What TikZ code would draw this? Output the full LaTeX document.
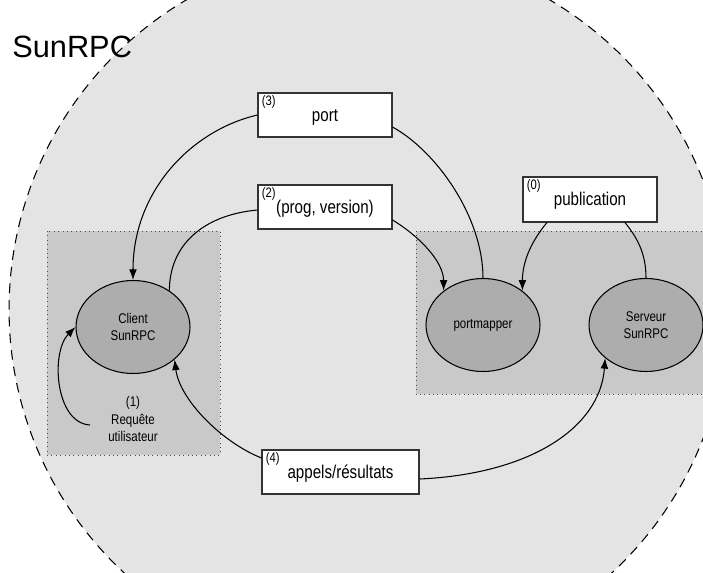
\documentclass[tikz,border=0pt]{standalone}
\usepackage{fontspec}
\setmainfont{Liberation Sans}
\newfontfamily\narrowfont[FakeStretch=0.82]{Liberation Sans}
\usetikzlibrary{arrows.meta,shapes.geometric}
\definecolor{bigfill}{HTML}{E4E4E4}
\definecolor{zonefill}{HTML}{C9C9C9}
\definecolor{ellfill}{HTML}{ADADAD}
\begin{document}
\begin{tikzpicture}[x=0.02cm,y=-0.02cm,
  box/.style={draw=black!80, fill=white, line width=0.6pt, minimum width=2.68cm, minimum height=0.88cm, inner sep=0pt,
    font=\narrowfont\fontsize{10.5}{12}\selectfont, text height=9pt, text depth=2pt},
  tag/.style={font=\narrowfont\fontsize{7.8}{8}\selectfont, inner sep=0pt, anchor=north west},
  proc/.style={ellipse, draw=black, line width=0.6pt, fill=ellfill, minimum width=2.28cm, minimum height=1.86cm,
    inner sep=0pt, align=center, font=\narrowfont\fontsize{8}{10}\selectfont},
  zone/.style={draw=black!70, dotted, fill=zonefill, line width=0.5pt},
  link/.style={line width=0.6pt, draw=black},
  arr/.style={link, -{Latex[length=6pt,width=4.4pt]}},
]
\useasboundingbox (0,0) rectangle (703,572);
\fill[white] (0,0) rectangle (703,572);
\clip (0,0) rectangle (703,572);
% big dashed circle
\draw[fill=bigfill, line width=0.6pt, dash pattern=on 5.5pt off 4pt] (368,309.5) circle[radius=7.18cm];
% title
\node[font=\fontsize{17.5}{20}\selectfont, anchor=base west, inner sep=0pt] (title) at (12,57) {SunRPC};
% zones
\draw[zone] (47,231) rectangle (220,455);
\draw[zone] (416,231) rectangle (712,394);
% processes
\node[proc] (client) at (133,327) {Client\\SunRPC};
\node[proc] (pmap) at (483,325) {portmapper};
\node[proc] (serv) at (646,325) {Serveur\\SunRPC};
\node[font=\narrowfont\fontsize{8}{10}\selectfont, align=center, inner sep=0pt] (req) at (133,419) {(1)\\Requête\\utilisateur};
% message boxes
\node[box] (port) at (325,115) {port};
\node[tag] (t3) at ([shift={(4,3)}]port.north west) {(3)};
\node[box] (prog) at (325,207) {(prog, version)};
\node[tag] (t2) at ([shift={(4,3)}]prog.north west) {(2)};
\node[box, minimum height=0.9cm] (pub) at (590,199.5) {publication};
\node[tag] (t0) at ([shift={(4,3)}]pub.north west) {(0)};
\node[box, minimum width=3.14cm] (appels) at (340.5,472) {appels/résultats};
\node[tag] (t4) at ([shift={(4,3)}]appels.north west) {(4)};
% connectors
\coordinate (reqstart) at (90,425);
\draw[arr] (reqstart) .. controls +(-35,-2) and +(-25,25) .. (client.west);
\draw[arr] (port.west) .. controls +(-65,15) and +(0,-90) .. (client.north);
\draw[link] ([shift={(0,12)}]port.east) .. controls +(45,25) and +(0,-60) .. (pmap.north);
\draw[link] ([shift={(0,3)}]prog.west) .. controls +(-55,5) and +(0,-45) .. (client.45);
\draw[arr] ([shift={(0,13)}]prog.east) .. controls +(25,15) and +(0,-30) .. (pmap.139);
\draw[arr] ([shift={(-43,0)}]pub.south) .. controls +(-15,18) and +(0,-30) .. (pmap.41);
\draw[link] ([shift={(35,0)}]pub.south) .. controls +(12,15) and +(0,-25) .. (serv.north);
\draw[arr] ([shift={(0,-14)}]appels.west) .. controls +(-40,-16) and +(5,40) .. (client.-38);
\draw[arr] ([shift={(0,7)}]appels.east) .. controls +(110,-5) and +(-5,70) .. (serv.-141);
\end{tikzpicture}
\end{document}
